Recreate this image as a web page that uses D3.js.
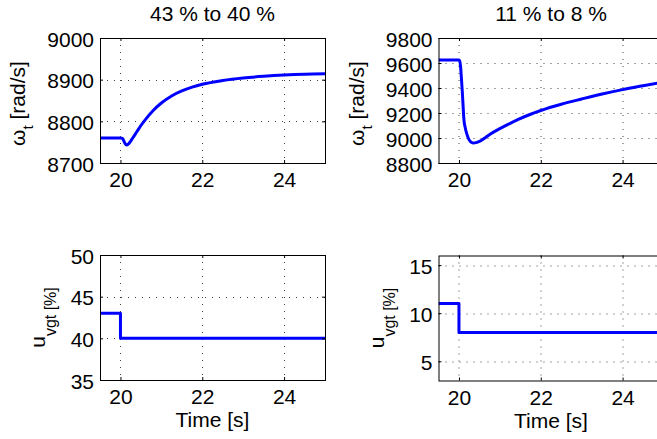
<!DOCTYPE html>
<html>
<head>
<meta charset="utf-8">
<script src="https://cdn.jsdelivr.net/npm/d3@7"></script>
<style>
  body { margin: 0; background: #fff; }
  svg { display: block; }
  text { font-family: "Liberation Sans", Arial, Helvetica, sans-serif; fill: #000; }
</style>
</head>
<body>
<svg id="fig" width="657" height="439"></svg>
<script>
// Shared time axis
const timeRange = [19.5, 25];
const timeTicks = [20, 22, 24];

// Turbine speed response, 43 % -> 40 % step
const speedTimeA = [19.5, 20.0, 20.05, 20.1, 20.15, 20.2, 20.3, 20.4, 20.5, 20.6, 20.8, 21.0,
                    21.25, 21.5, 21.75, 22.0, 22.5, 23.0, 23.5, 24.0, 24.5, 25.0];
const speedA     = [8760, 8760, 8759, 8749, 8743, 8746, 8760, 8775, 8790, 8803, 8826, 8844,
                    8861, 8873, 8882, 8889, 8898, 8904, 8908, 8911, 8913, 8914];

// Turbine speed response, 11 % -> 8 % step
const speedTimeB = [19.5, 20.0, 20.02, 20.04, 20.06, 20.08, 20.1, 20.115, 20.13, 20.15, 20.17,
                    20.19, 20.23, 20.27, 20.31, 20.35, 20.42, 20.5, 20.6, 20.76, 21.0, 21.2,
                    21.45, 21.75, 22.0, 22.5, 23.0, 23.5, 24.0, 24.5, 25.0];
const speedB     = [9625, 9625, 9615, 9568, 9478, 9380, 9265, 9175, 9122, 9088, 9058,
                    9035, 8998, 8975, 8964, 8960, 8963, 8973, 8993, 9030, 9075, 9109,
                    9149, 9190, 9220, 9270, 9312, 9352, 9387, 9418, 9448];

// VGT position commands (step at t = 20 s)
const vgtTime = [19.5, 20.0, 25.0];
const vgtA    = [43, 40, 40];
const vgtB    = [11, 8, 8];

// Axis ranges and tick values
const speedDomainA = [8700, 9000];
const speedTicksA  = [8700, 8800, 8900, 9000];
const speedDomainB = [8800, 9800];
const speedTicksB  = [8800, 9000, 9200, 9400, 9600, 9800];
const vgtDomainA   = [35, 50];
const vgtTicksA    = [35, 40, 45, 50];
const vgtDomainB   = [3, 16];
const vgtTicksB    = [5, 10, 15];

const titles = ["43 % to 40 %", "11 % to 8 %"];

const W = 225, H = 125;
const FS = 21;
const fmt = d3.format("d");

const panels = [
  { id: "a", left: 100,   top: 38,    t: speedTimeA, v: speedA, yDomain: speedDomainA, yTicks: speedTicksA, curve: d3.curveMonotoneX, title: titles[0], ylab: "omega" },
  { id: "b", left: 438.5, top: 38,    t: speedTimeB, v: speedB, yDomain: speedDomainB, yTicks: speedTicksB, curve: d3.curveMonotoneX, title: titles[1], ylab: "omega" },
  { id: "c", left: 100,   top: 255,   t: vgtTime,    v: vgtA,   yDomain: vgtDomainA,   yTicks: vgtTicksA,   curve: d3.curveStepAfter,  xlab: "Time [s]", ylab: "u" },
  { id: "d", left: 438.5, top: 255.5, t: vgtTime,    v: vgtB,   yDomain: vgtDomainB,   yTicks: vgtTicksB,   curve: d3.curveStepAfter,  xlab: "Time [s]", ylab: "u" }
];

const svg = d3.select("#fig");

panels.forEach(p => {
  const x = d3.scaleLinear().domain(timeRange).range([0, W]);
  const y = d3.scaleLinear().domain(p.yDomain).range([H, 0]);
  const g = svg.append("g").attr("transform", `translate(${p.left},${p.top})`);

  // dotted grid
  const grid = g.append("g").attr("class", "grid");
  grid.selectAll("line.gx").data(timeTicks).join("line")
    .attr("x1", d => Math.round(x(d)) + 0.5).attr("x2", d => Math.round(x(d)) + 0.5)
    .attr("y1", 0).attr("y2", H);
  grid.selectAll("line.gy").data(p.yTicks).join("line")
    .attr("x1", 0).attr("x2", W)
    .attr("y1", d => Math.round(y(d)) + 0.5).attr("y2", d => Math.round(y(d)) + 0.5);
  grid.selectAll("line")
    .attr("stroke", "#444").attr("stroke-width", 1)
    .attr("stroke-dasharray", "1,6");

  // data line
  const clipId = "clip-" + p.id;
  g.append("clipPath").attr("id", clipId)
    .append("rect").attr("x", 0).attr("y", 0).attr("width", W).attr("height", H);
  const pts = p.t.map((t, i) => [t, p.v[i]]);
  g.append("path")
    .attr("clip-path", `url(#${clipId})`)
    .attr("d", d3.line().x(d => x(d[0])).y(d => y(d[1])).curve(p.curve)(pts))
    .attr("fill", "none").attr("stroke", "#0000ff").attr("stroke-width", 3)
    .attr("stroke-linejoin", "round");

  // axes with inward ticks
  const ax = g.append("g").attr("transform", `translate(0,${H})`)
    .call(d3.axisBottom(x).tickValues(timeTicks).tickFormat(fmt).tickSize(-3).tickSizeOuter(0));
  const ay = g.append("g")
    .call(d3.axisLeft(y).tickValues(p.yTicks).tickFormat(fmt).tickSize(-3).tickSizeOuter(0).tickPadding(6));
  g.append("g").attr("transform", `translate(${W},0)`)
    .call(d3.axisRight(y).tickValues(p.yTicks).tickSize(-3).tickSizeOuter(0).tickFormat(""));
  g.append("g")
    .call(d3.axisTop(x).tickValues(timeTicks).tickSize(-3).tickSizeOuter(0).tickFormat(""));
  g.selectAll(".domain").remove();
  g.selectAll(".tick line").attr("stroke", "#000");
  g.selectAll(".tick text").style("font-size", FS + "px")
    .style("font-family", '"Liberation Sans", Arial, sans-serif');
  ax.selectAll("text").attr("dy", null).attr("y", 24);
  ay.selectAll("text").attr("dy", 8);

  // axes box
  g.append("rect").attr("x", 0.5).attr("y", 0.5).attr("width", W).attr("height", H)
    .attr("fill", "none").attr("stroke", "#000").attr("stroke-width", 1);

  // title
  if (p.title) {
    g.append("text").attr("x", W / 2).attr("y", 21 - p.top)
      .attr("text-anchor", "middle").style("font-size", FS + "px").text(p.title);
  }
  // x label
  if (p.xlab) {
    g.append("text").attr("x", W / 2).attr("y", H + 47)
      .attr("text-anchor", "middle").style("font-size", FS + "px").text(p.xlab);
  }
  // y label
  if (p.ylab === "omega") {
    const lab = g.append("text")
      .attr("transform", `translate(-75,${H / 2 + 3}) rotate(-90)`)
      .attr("text-anchor", "middle").style("font-size", FS + "px");
    lab.append("tspan").text("ω");
    lab.append("tspan").attr("dy", 8).style("font-size", "15px").text("t");
    lab.append("tspan").attr("dy", -8).text(" [rad/s]");
  } else {
    const lab = g.append("text")
      .attr("transform", `translate(-55,${H / 2}) rotate(-90)`)
      .attr("text-anchor", "middle").style("font-size", FS + "px");
    lab.append("tspan").text("u");
    lab.append("tspan").attr("dy", 11).style("font-size", "16px").text("vgt [%]");
  }
});
</script>
</body>
</html>
